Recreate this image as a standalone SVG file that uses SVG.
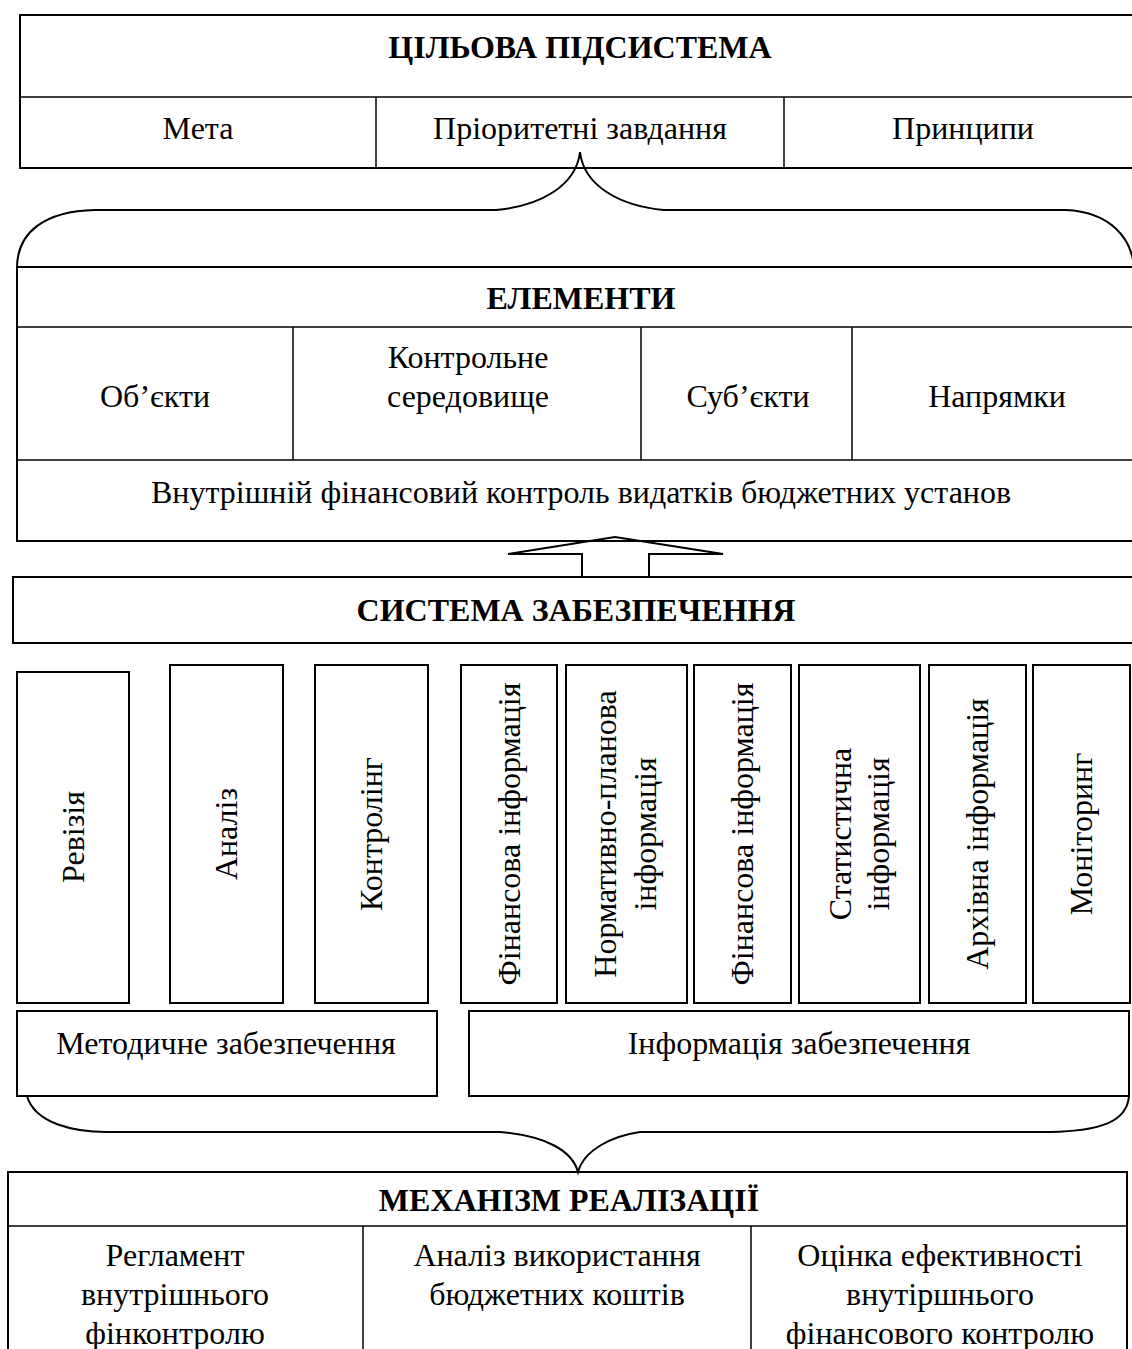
<svg xmlns="http://www.w3.org/2000/svg" width="1132" height="1349" viewBox="0 0 1132 1349">
<style>
.box{fill:none;stroke:#000;stroke-width:2}
.div{fill:none;stroke:#000;stroke-width:1.5}
.con{fill:none;stroke:#000;stroke-width:2}
text{font-family:"Liberation Serif","Times New Roman",serif;font-size:32px;fill:#000;text-anchor:middle}
.h{font-weight:bold}
</style>
<rect width="1132" height="1349" fill="#fff"/>

<g id="target">
<rect class="box" x="20" y="15" width="1130" height="153"/>
<line class="div" x1="20" y1="97" x2="1140" y2="97"/>
<line class="div" x1="376" y1="97" x2="376" y2="168"/>
<line class="div" x1="784" y1="97" x2="784" y2="168"/>
<text class="h" x="580" y="58">ЦІЛЬОВА ПІДСИСТЕМА</text>
<text x="198" y="139">Мета</text>
<text x="580" y="139">Пріоритетні завдання</text>
<text x="963" y="139">Принципи</text>
</g>

<g id="elements">
<rect class="box" x="17" y="267" width="1130" height="274"/>
<line class="div" x1="17" y1="327" x2="1140" y2="327"/>
<line class="div" x1="17" y1="460" x2="1140" y2="460"/>
<line class="div" x1="293" y1="327" x2="293" y2="460"/>
<line class="div" x1="641" y1="327" x2="641" y2="460"/>
<line class="div" x1="852" y1="327" x2="852" y2="460"/>
<text class="h" x="581" y="309">ЕЛЕМЕНТИ</text>
<text x="155" y="407">Об’єкти</text>
<text x="468" y="368">Контрольне</text>
<text x="468" y="407">середовище</text>
<text x="748" y="407">Суб’єкти</text>
<text x="997" y="407">Напрямки</text>
<text x="581" y="503">Внутрішній фінансовий контроль видатків бюджетних установ</text>
</g>

<g id="support">
<rect class="box" x="13" y="577" width="1130" height="66"/>
<text class="h" x="576" y="621">СИСТЕМА ЗАБЕЗПЕЧЕННЯ</text>
</g>

<g id="revision"><rect class="box" x="17" y="672" width="112" height="331"/><text transform="translate(73,837) rotate(-90)" y="11">Ревізія</text></g>
<g id="analysis"><rect class="box" x="170" y="665" width="113" height="338"/><text transform="translate(226,834) rotate(-90)" y="11">Аналіз</text></g>
<g id="controlling"><rect class="box" x="315" y="665" width="113" height="338"/><text transform="translate(371,834) rotate(-90)" y="11">Контролінг</text></g>
<g id="fin1"><rect class="box" x="461" y="665" width="96" height="338"/><text transform="translate(509,834) rotate(-90)" y="11">Фінансова інформація</text></g>
<g id="norm"><rect class="box" x="566" y="665" width="121" height="338"/><text transform="translate(626,834) rotate(-90)"><tspan x="0" y="-10">Нормативно-планова</tspan><tspan x="0" y="30">інформація</tspan></text></g>
<g id="fin2"><rect class="box" x="694" y="665" width="97" height="338"/><text transform="translate(742,834) rotate(-90)" y="11">Фінансова інформація</text></g>
<g id="stat"><rect class="box" x="799" y="665" width="121" height="338"/><text transform="translate(859,834) rotate(-90)"><tspan x="0" y="-8">Статистична</tspan><tspan x="0" y="30">інформація</tspan></text></g>
<g id="archive"><rect class="box" x="929" y="665" width="97" height="338"/><text transform="translate(977,834) rotate(-90)" y="11">Архівна інформація</text></g>
<g id="monitoring"><rect class="box" x="1033" y="665" width="97" height="338"/><text transform="translate(1081,834) rotate(-90)" y="11">Моніторинг</text></g>

<g id="methodical"><rect class="box" x="17" y="1011" width="420" height="85"/><text x="226" y="1054">Методичне забезпечення</text></g>
<g id="information"><rect class="box" x="469" y="1011" width="660" height="85"/><text x="799" y="1054">Інформація забезпечення</text></g>

<g id="mechanism">
<rect class="box" x="8" y="1172" width="1119" height="200"/>
<line class="div" x1="8" y1="1226" x2="1127" y2="1226"/>
<line class="div" x1="363" y1="1226" x2="363" y2="1349"/>
<line class="div" x1="751" y1="1226" x2="751" y2="1349"/>
<text class="h" x="569" y="1211">МЕХАНІЗМ РЕАЛІЗАЦІЇ</text>
<text x="175" y="1266">Регламент</text>
<text x="175" y="1305">внутрішнього</text>
<text x="175" y="1344">фінконтролю</text>
<text x="557" y="1266">Аналіз використання</text>
<text x="557" y="1305">бюджетних коштів</text>
<text x="940" y="1266">Оцінка ефективності</text>
<text x="940" y="1305">внутіршнього</text>
<text x="940" y="1344">фінансового контролю</text>
</g>

<g id="connectors">
<path class="con" d="M17,268 C17,232 45,211 95,210 H496 C540,206 576,186 580,152 C584,186 620,206 664,210 H1066 C1110,212 1132,238 1134,268"/>
<path class="con" d="M582,577 V554 H508 L615,537 L723,554 H649 V577"/>
<path class="con" d="M27,1096 C35,1124 75,1132 107,1132 H500 C545,1136 572,1150 578,1172 C584,1150 612,1136 640,1132 H1050 C1100,1131 1127,1122 1129,1096"/>
</g>
</svg>
